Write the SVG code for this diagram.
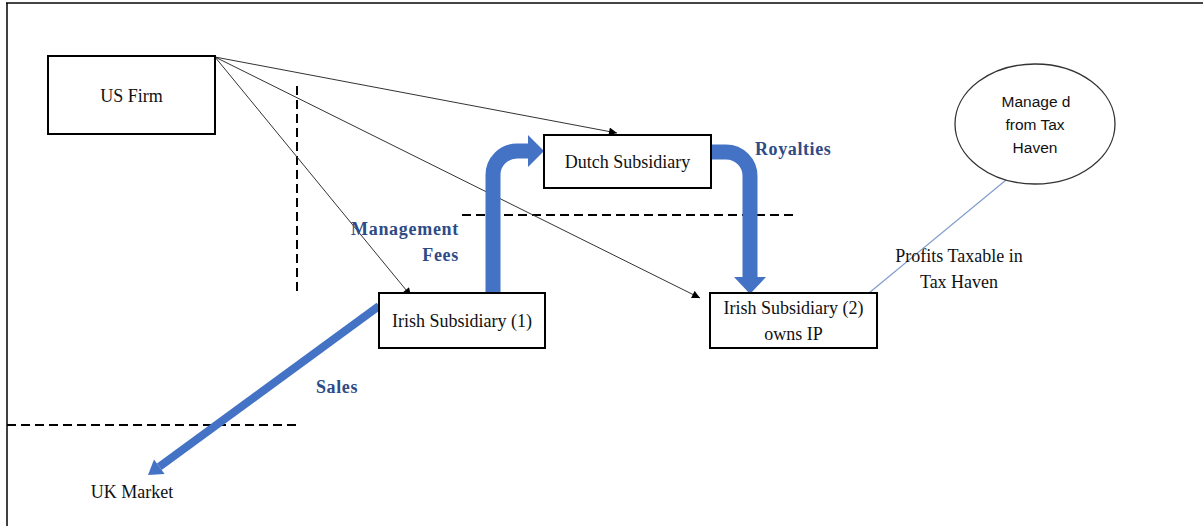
<svg xmlns="http://www.w3.org/2000/svg" width="1203" height="526" viewBox="0 0 1203 526">
<style>
.box{fill:#fff;stroke:#000;stroke-width:2}
.t{font-family:"Liberation Serif","Times New Roman",serif;font-size:18px;fill:#111;text-anchor:middle}
.lbl{font-family:"Liberation Serif","Times New Roman",serif;font-size:18px;font-weight:bold;fill:#2F4B86}
.sans{font-family:"Liberation Sans",Arial,sans-serif;font-size:15.5px;fill:#111;text-anchor:middle}
.thin{stroke:#333;stroke-width:1;fill:none;marker-end:url(#ah)}
.dash{stroke:#000;stroke-width:2;stroke-dasharray:9 5;fill:none}
.flow{stroke:#4472C4;stroke-width:15;fill:none}
.head{fill:#4472C4}
</style>
<defs>
<marker id="ah" viewBox="0 0 10 10" refX="10" refY="5" markerWidth="9" markerHeight="8" markerUnits="userSpaceOnUse" orient="auto">
<path d="M0,0 L10,5 L0,10 z" fill="#000"/>
</marker>
</defs>
<rect width="1203" height="526" fill="#fff"/>
<g id="frame">
<line x1="6" y1="3" x2="1203" y2="3" stroke="#444" stroke-width="2"/>
<line x1="7" y1="3" x2="7" y2="526" stroke="#000" stroke-width="1.5"/>
</g>
<g id="dividers">
<line class="dash" x1="297" y1="86" x2="297" y2="295"/>
<line class="dash" x1="462" y1="215" x2="793" y2="215"/>
<line class="dash" x1="7" y1="425" x2="297" y2="425"/>
</g>
<g id="connectors">
<line class="thin" x1="215" y1="57" x2="617" y2="133"/>
<line class="thin" x1="215" y1="57" x2="700" y2="298"/>
<line class="thin" x1="215" y1="57" x2="411" y2="296"/>
<line x1="1006" y1="180" x2="869" y2="293" stroke="#7F9CCB" stroke-width="1.2"/>
<path class="flow" d="M493,293 V175 A24,24 0 0 1 517,151 H529"/>
<polygon class="head" points="528,135 544,151 528,167"/>
<path class="flow" d="M711,152 H726 A24,24 0 0 1 750,176 V278"/>
<polygon class="head" points="734,277 766,277 750,294"/>
<line x1="379" y1="306" x2="159.3" y2="466.7" stroke="#4472C4" stroke-width="8"/>
<polygon class="head" points="148,475 164.6,474 154,459.4"/>
</g>
<g id="us-firm">
<rect class="box" x="48" y="56" width="167" height="78"/>
<text class="t" x="131.5" y="102">US Firm</text>
</g>
<g id="dutch-subsidiary">
<rect class="box" x="544" y="135" width="167" height="53"/>
<text class="t" x="627.5" y="168">Dutch Subsidiary</text>
</g>
<g id="irish-subsidiary-1">
<rect class="box" x="379" y="293" width="166" height="55"/>
<text class="t" x="462" y="327">Irish Subsidiary (1)</text>
</g>
<g id="irish-subsidiary-2">
<rect class="box" x="710" y="293" width="167" height="55"/>
<text class="t" x="793.5" y="314">Irish Subsidiary (2)</text>
<text class="t" x="793.5" y="340">owns IP</text>
</g>
<g id="tax-haven">
<ellipse cx="1035" cy="124" rx="80" ry="60" fill="#fff" stroke="#333" stroke-width="1.3"/>
<text class="sans" x="1036" y="107">Manage d</text>
<text class="sans" x="1035" y="130">from Tax</text>
<text class="sans" x="1035" y="153">Haven</text>
</g>
<g id="uk-market">
<text class="t" x="132" y="498">UK Market</text>
</g>
<g id="labels">
<text class="lbl" x="459" y="235" text-anchor="end" letter-spacing="0.7">Management</text>
<text class="lbl" x="459" y="261" text-anchor="end" letter-spacing="0.7">Fees</text>
<text class="lbl" x="755" y="155" letter-spacing="0.6">Royalties</text>
<text class="lbl" x="316" y="393" letter-spacing="0.6">Sales</text>
<text class="t" x="959" y="262">Profits Taxable in</text>
<text class="t" x="959" y="288">Tax Haven</text>
</g>
</svg>
